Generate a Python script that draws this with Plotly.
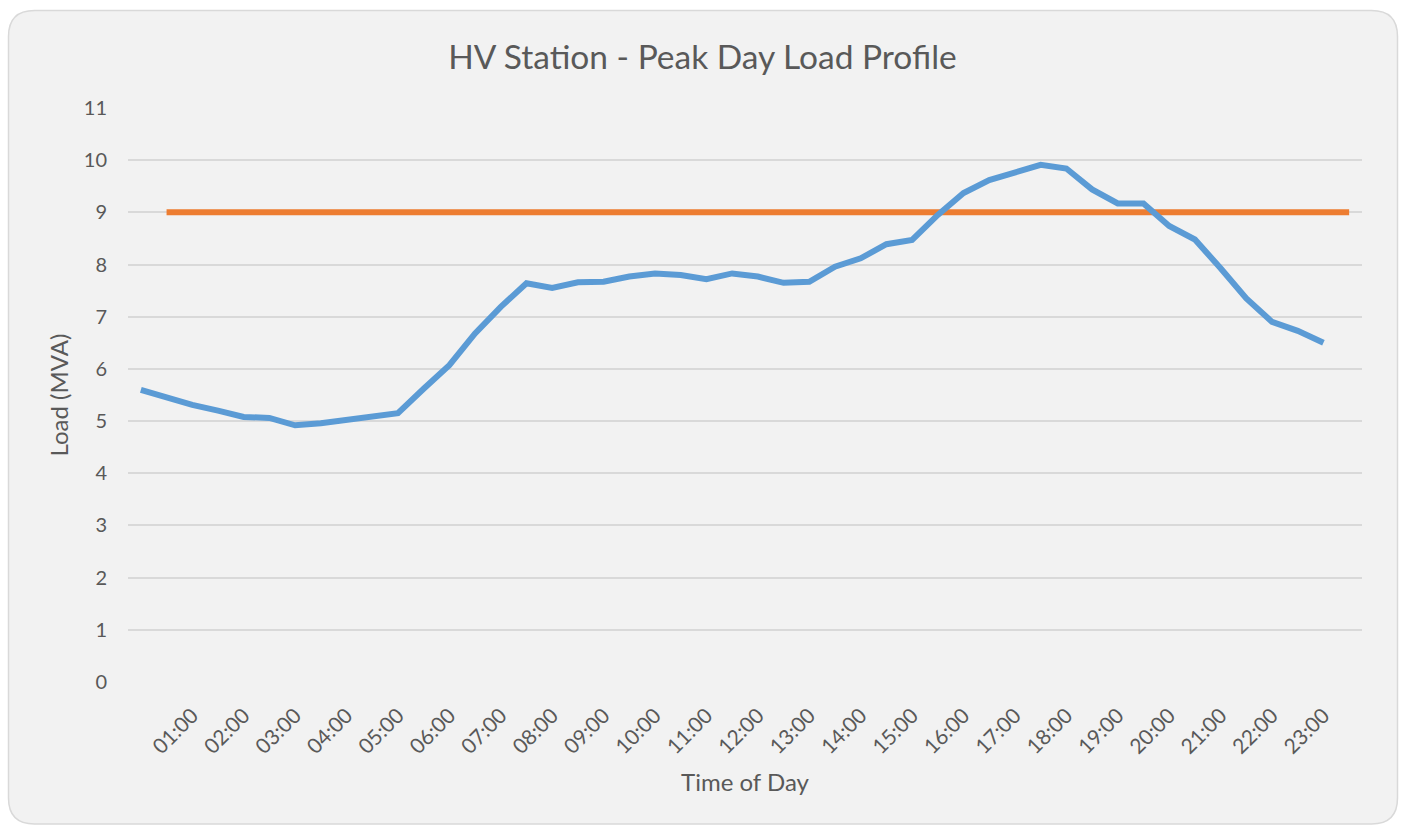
import plotly.graph_objects as go

# ---- data ----
time_slots = ["00:00", "00:30", "01:00", "01:30", "02:00", "02:30", "03:00", "03:30",
              "04:00", "04:30", "05:00", "05:30", "06:00", "06:30", "07:00", "07:30",
              "08:00", "08:30", "09:00", "09:30", "10:00", "10:30", "11:00", "11:30",
              "12:00", "12:30", "13:00", "13:30", "14:00", "14:30", "15:00", "15:30",
              "16:00", "16:30", "17:00", "17:30", "18:00", "18:30", "19:00", "19:30",
              "20:00", "20:30", "21:00", "21:30", "22:00", "22:30", "23:00", "23:30"]

load_times = time_slots[:47]
load_mva = [5.60, 5.45, 5.31, 5.20, 5.08, 5.06, 4.92, 4.96, 5.02, 5.08,
            5.15, 5.62, 6.07, 6.68, 7.19, 7.64, 7.55, 7.66, 7.67, 7.77,
            7.83, 7.80, 7.72, 7.83, 7.77, 7.65, 7.67, 7.96, 8.12, 8.39,
            8.47, 8.95, 9.37, 9.62, 9.78, 9.91, 9.84, 9.44, 9.17, 9.17,
            8.74, 8.48, 7.93, 7.35, 6.90, 6.73, 6.50]

limit_times = time_slots[1:]
limit_mva = [9, 9, 9, 9, 9, 9, 9, 9, 9, 9, 9, 9, 9, 9, 9, 9, 9, 9, 9, 9, 9, 9, 9, 9,
             9, 9, 9, 9, 9, 9, 9, 9, 9, 9, 9, 9, 9, 9, 9, 9, 9, 9, 9, 9, 9, 9, 9]

tick_labels = ["01:00", "02:00", "03:00", "04:00", "05:00", "06:00", "07:00", "08:00",
               "09:00", "10:00", "11:00", "12:00", "13:00", "14:00", "15:00", "16:00",
               "17:00", "18:00", "19:00", "20:00", "21:00", "22:00", "23:00"]
y_ticks = [0, 1, 2, 3, 4, 5, 6, 7, 8, 9, 10, 11]

# ---- layout geometry (body margin removed via post_script) ----
W, H = 1402, 825
ML, MR, MT, MB = 128, 40, 108, 825 - 682
PW, PH = W - ML - MR, H - MT - MB

def px(x):
    return (x - ML) / PW

def py(y):
    return (H - MB - y) / PH

def rounded_rect(x0, y0, x1, y1, r):
    pts = [
        f"M {px(x0 + r)},{py(y0)}",
        f"L {px(x1 - r)},{py(y0)}",
        f"Q {px(x1)},{py(y0)} {px(x1)},{py(y0 + r)}",
        f"L {px(x1)},{py(y1 - r)}",
        f"Q {px(x1)},{py(y1)} {px(x1 - r)},{py(y1)}",
        f"L {px(x0 + r)},{py(y1)}",
        f"Q {px(x0)},{py(y1)} {px(x0)},{py(y1 - r)}",
        f"L {px(x0)},{py(y0 + r)}",
        f"Q {px(x0)},{py(y0)} {px(x0 + r)},{py(y0)}",
        "Z",
    ]
    return " ".join(pts)

FONT = "Lato, Open Sans, sans-serif"
TXT = "#595959"

fig = go.Figure()
fig.add_trace(go.Scatter(
    x=limit_times, y=limit_mva, mode="lines", name="Limit",
    line=dict(color="#ED7D31", width=6, shape="linear"),
    hoverinfo="x+y"))
fig.add_trace(go.Scatter(
    x=load_times, y=load_mva, mode="lines", name="Load",
    line=dict(color="#5B9BD5", width=6, shape="linear"),
    hoverinfo="x+y"))

fig.update_layout(
    width=W, height=H,
    margin=dict(l=ML, r=MR, t=MT, b=MB, autoexpand=False),
    paper_bgcolor="white",
    plot_bgcolor="rgba(0,0,0,0)",
    showlegend=False,
    font=dict(family=FONT, color=TXT),
    title=dict(text="HV Station - Peak Day Load Profile",
               x=702.5 / W, xanchor="center",
               y=1 - 57 / H, yanchor="middle",
               font=dict(size=33.5, color=TXT, family=FONT)),
    xaxis=dict(
        type="category",
        categoryorder="array", categoryarray=time_slots,
        range=[-0.5, len(time_slots) - 0.5],
        tickmode="array", tickvals=tick_labels, ticktext=tick_labels,
        tickangle=-45,
        tickfont=dict(size=21, color=TXT, family=FONT),
        showgrid=False, zeroline=False, showline=False,
        ticks="outside", ticklen=12, tickcolor="rgba(0,0,0,0)",
        title=dict(text="Time of Day", font=dict(size=24, color=TXT, family=FONT),
                   standoff=17),
    ),
    yaxis=dict(
        range=[0, 11], tickvals=y_ticks,
        tickfont=dict(size=20, color=TXT, family=FONT),
        showgrid=True, gridcolor="#D9D9D9", gridwidth=1.5,
        zeroline=False, showline=False, ticks="",
        ticklabelstandoff=20,
        title=dict(text="Load (MVA)", font=dict(size=24, color=TXT, family=FONT),
                   standoff=8),
    ),
    shapes=[dict(type="path", xref="paper", yref="paper", layer="below",
                 path=rounded_rect(8.5, 10.5, 1397.5, 824, 26),
                 fillcolor="#F2F2F2", line=dict(color="#D9D9D9", width=1.5))],
)

fig.write_html(
    "out.html",
    config={"displayModeBar": False},
    post_script="document.body.style.margin='0';document.body.style.overflow='hidden';",
)
